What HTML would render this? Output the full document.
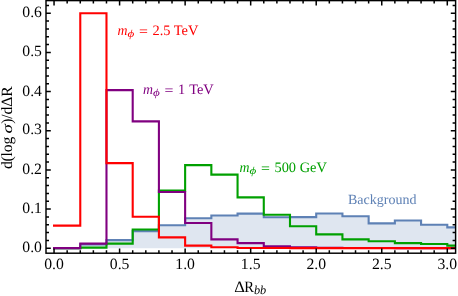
<!DOCTYPE html>
<html><head><meta charset="utf-8"><title>plot</title>
<style>html,body{margin:0;padding:0;background:#fff}svg{display:block;will-change:transform}text{text-rendering:geometricPrecision}</style></head>
<body>
<svg width="458" height="296" viewBox="0 0 458 296">
<rect width="458" height="296" fill="#fff"/>
<defs><clipPath id="c"><rect x="46.0" y="0.6" width="409.6" height="252.6"/></clipPath></defs>
<g clip-path="url(#c)" fill="none" stroke-width="2.1" stroke-linejoin="miter" stroke-linecap="square">
<path d="M54.05,248.09 L80.27,248.09 L80.27,244.33 L106.48,244.33 L106.48,240.14 L132.70,240.14 L132.70,231.13 L158.91,231.13 L158.91,225.22 L185.13,225.22 L185.13,218.28 L211.35,218.28 L211.35,215.54 L237.56,215.54 L237.56,213.58 L263.78,213.58 L263.78,217.31 L289.99,217.31 L289.99,217.11 L316.21,217.11 L316.21,213.47 L342.43,213.47 L342.43,216.21 L368.64,216.21 L368.64,223.34 L394.86,223.34 L394.86,220.52 L421.07,220.52 L421.07,224.75 L447.29,224.75 L447.29,227.37 L473.51,227.37 L473.51,248.25 L54.05,248.25 Z" fill="#5e81b5" fill-opacity="0.2" stroke="none"/>
<path d="M54.05,248.09 L80.27,248.09 L80.27,244.33 L106.48,244.33 L106.48,240.14 L132.70,240.14 L132.70,231.13 L158.91,231.13 L158.91,225.22 L185.13,225.22 L185.13,218.28 L211.35,218.28 L211.35,215.54 L237.56,215.54 L237.56,213.58 L263.78,213.58 L263.78,217.31 L289.99,217.31 L289.99,217.11 L316.21,217.11 L316.21,213.47 L342.43,213.47 L342.43,216.21 L368.64,216.21 L368.64,223.34 L394.86,223.34 L394.86,220.52 L421.07,220.52 L421.07,224.75 L447.29,224.75 L447.29,227.37 L473.51,227.37" stroke="#5e81b5"/>
<path d="M54.05,248.09 L80.27,248.09 L80.27,247.66 L106.48,247.66 L106.48,243.67 L132.70,243.67 L132.70,229.45 L158.91,229.45 L158.91,190.67 L185.13,190.67 L185.13,165.09 L211.35,165.09 L211.35,174.61 L237.56,174.61 L237.56,197.33 L263.78,197.33 L263.78,214.68 L289.99,214.68 L289.99,226.31 L316.21,226.31 L316.21,234.34 L342.43,234.34 L342.43,239.36 L368.64,239.36 L368.64,241.20 L394.86,241.20 L394.86,243.16 L421.07,243.16 L421.07,243.94 L447.29,243.94 L447.29,245.66 L473.51,245.66" stroke="#00a000"/>
<path d="M54.05,248.09 L80.27,248.09 L80.27,243.67 L106.48,243.67 L106.48,90.08 L132.70,90.08 L132.70,121.42 L158.91,121.42 L158.91,192.04 L185.13,192.04 L185.13,223.02 L211.35,223.02 L211.35,239.36 L237.56,239.36 L237.56,243.16 L263.78,243.16 L263.78,246.29 L289.99,246.29 L289.99,247.19 L316.21,247.19 L316.21,247.78 L342.43,247.78 L342.43,247.94 L368.64,247.94 L368.64,248.05 L394.86,248.05 L394.86,248.09 L421.07,248.09 L421.07,248.13 L447.29,248.13 L447.29,248.13 L473.51,248.13" stroke="#800080"/>
<path d="M54.05,225.65 L80.27,225.65 L80.27,13.23 L106.48,13.23 L106.48,163.09 L132.70,163.09 L132.70,216.72 L158.91,216.72 L158.91,237.40 L185.13,237.40 L185.13,245.66 L211.35,245.66 L211.35,247.19 L237.56,247.19 L237.56,247.94 L263.78,247.94 L263.78,248.05 L289.99,248.05 L289.99,248.09 L316.21,248.09 L316.21,248.09 L342.43,248.09 L342.43,248.09 L368.64,248.09 L368.64,248.09 L394.86,248.09 L394.86,248.09 L421.07,248.09 L421.07,248.09 L447.29,248.09 L447.29,248.09 L473.51,248.09" stroke="#ff0000"/>
</g>
<path d="M54.05,253.2 v-4.8 M54.05,0.6 v4.8 M67.16,253.2 v-3.0 M67.16,0.6 v3.0 M80.27,253.2 v-3.0 M80.27,0.6 v3.0 M93.37,253.2 v-3.0 M93.37,0.6 v3.0 M106.48,253.2 v-3.0 M106.48,0.6 v3.0 M119.59,253.2 v-4.8 M119.59,0.6 v4.8 M132.70,253.2 v-3.0 M132.70,0.6 v3.0 M145.81,253.2 v-3.0 M145.81,0.6 v3.0 M158.91,253.2 v-3.0 M158.91,0.6 v3.0 M172.02,253.2 v-3.0 M172.02,0.6 v3.0 M185.13,253.2 v-4.8 M185.13,0.6 v4.8 M198.24,253.2 v-3.0 M198.24,0.6 v3.0 M211.35,253.2 v-3.0 M211.35,0.6 v3.0 M224.45,253.2 v-3.0 M224.45,0.6 v3.0 M237.56,253.2 v-3.0 M237.56,0.6 v3.0 M250.67,253.2 v-4.8 M250.67,0.6 v4.8 M263.78,253.2 v-3.0 M263.78,0.6 v3.0 M276.89,253.2 v-3.0 M276.89,0.6 v3.0 M289.99,253.2 v-3.0 M289.99,0.6 v3.0 M303.10,253.2 v-3.0 M303.10,0.6 v3.0 M316.21,253.2 v-4.8 M316.21,0.6 v4.8 M329.32,253.2 v-3.0 M329.32,0.6 v3.0 M342.43,253.2 v-3.0 M342.43,0.6 v3.0 M355.53,253.2 v-3.0 M355.53,0.6 v3.0 M368.64,253.2 v-3.0 M368.64,0.6 v3.0 M381.75,253.2 v-4.8 M381.75,0.6 v4.8 M394.86,253.2 v-3.0 M394.86,0.6 v3.0 M407.97,253.2 v-3.0 M407.97,0.6 v3.0 M421.07,253.2 v-3.0 M421.07,0.6 v3.0 M434.18,253.2 v-3.0 M434.18,0.6 v3.0 M447.29,253.2 v-4.8 M447.29,0.6 v4.8 M46.0,248.25 h4.8 M455.6,248.25 h-4.8 M46.0,240.42 h3.0 M455.6,240.42 h-3.0 M46.0,232.58 h3.0 M455.6,232.58 h-3.0 M46.0,224.75 h3.0 M455.6,224.75 h-3.0 M46.0,216.91 h3.0 M455.6,216.91 h-3.0 M46.0,209.08 h4.8 M455.6,209.08 h-4.8 M46.0,201.25 h3.0 M455.6,201.25 h-3.0 M46.0,193.41 h3.0 M455.6,193.41 h-3.0 M46.0,185.58 h3.0 M455.6,185.58 h-3.0 M46.0,177.74 h3.0 M455.6,177.74 h-3.0 M46.0,169.91 h4.8 M455.6,169.91 h-4.8 M46.0,162.08 h3.0 M455.6,162.08 h-3.0 M46.0,154.24 h3.0 M455.6,154.24 h-3.0 M46.0,146.41 h3.0 M455.6,146.41 h-3.0 M46.0,138.57 h3.0 M455.6,138.57 h-3.0 M46.0,130.74 h4.8 M455.6,130.74 h-4.8 M46.0,122.91 h3.0 M455.6,122.91 h-3.0 M46.0,115.07 h3.0 M455.6,115.07 h-3.0 M46.0,107.24 h3.0 M455.6,107.24 h-3.0 M46.0,99.40 h3.0 M455.6,99.40 h-3.0 M46.0,91.57 h4.8 M455.6,91.57 h-4.8 M46.0,83.74 h3.0 M455.6,83.74 h-3.0 M46.0,75.90 h3.0 M455.6,75.90 h-3.0 M46.0,68.07 h3.0 M455.6,68.07 h-3.0 M46.0,60.23 h3.0 M455.6,60.23 h-3.0 M46.0,52.40 h4.8 M455.6,52.40 h-4.8 M46.0,44.57 h3.0 M455.6,44.57 h-3.0 M46.0,36.73 h3.0 M455.6,36.73 h-3.0 M46.0,28.90 h3.0 M455.6,28.90 h-3.0 M46.0,21.06 h3.0 M455.6,21.06 h-3.0 M46.0,13.23 h4.8 M455.6,13.23 h-4.8 M46.0,5.40 h3.0 M455.6,5.40 h-3.0" stroke="#000" stroke-width="1.5" fill="none"/>
<rect x="46.0" y="0.6" width="409.6" height="252.6" fill="none" stroke="#000" stroke-width="1.45"/>
<g font-family="'Liberation Serif', serif" font-size="15.7" fill="#000">
<text x="54.05" y="269" text-anchor="middle">0.0</text>
<text x="119.59" y="269" text-anchor="middle">0.5</text>
<text x="185.13" y="269" text-anchor="middle">1.0</text>
<text x="250.67" y="269" text-anchor="middle">1.5</text>
<text x="316.21" y="269" text-anchor="middle">2.0</text>
<text x="381.75" y="269" text-anchor="middle">2.5</text>
<text x="447.29" y="269" text-anchor="middle">3.0</text>
<text x="41.9" y="251.95" text-anchor="end">0.0</text>
<text x="41.9" y="213.18" text-anchor="end">0.1</text>
<text x="41.9" y="173.81" text-anchor="end">0.2</text>
<text x="41.9" y="134.44" text-anchor="end">0.3</text>
<text x="41.9" y="96.17" text-anchor="end">0.4</text>
<text x="41.9" y="56.10" text-anchor="end">0.5</text>
<text x="41.9" y="16.93" text-anchor="end">0.6</text>
<text transform="translate(234.3,292.3) scale(1.05,1)" font-size="15.8">Δ</text>
<text x="244.2" y="292.3" font-size="15.8" textLength="9.7" lengthAdjust="spacingAndGlyphs">R</text>
<text x="253.9" y="293.6" font-size="12.3" font-style="italic">bb</text>
<g transform="translate(11.9,168.7) rotate(-90)" font-size="15.7">
<text x="-0.4" y="0" letter-spacing="-0.2">d(log</text>
<text transform="translate(35.2,0) scale(1.3,1)" font-size="14.5" font-style="italic">σ</text>
<text x="45.0" y="0" letter-spacing="-0.17">)/dΔR</text>
</g>
</g>
<g font-family="'Liberation Serif', serif" font-size="14.5">
<g fill="#ff0000"><text transform="translate(117.50,34.7) scale(0.96,1)" font-size="14.4" font-style="italic">m</text><text transform="translate(127.50,36.6) scale(1.25,1)" font-size="10.5" font-style="italic">ϕ</text><text transform="translate(139.11,35.50) scale(1.1,1)" font-size="14.4">=</text><text x="152.47" y="34.7" font-size="14.4" word-spacing="0">2.5 TeV</text></g>
<g fill="#800080"><text transform="translate(143.00,93.8) scale(0.96,1)" font-size="14.4" font-style="italic">m</text><text transform="translate(153.00,95.7) scale(1.25,1)" font-size="10.5" font-style="italic">ϕ</text><text transform="translate(164.61,94.60) scale(1.1,1)" font-size="14.4">=</text><text x="177.97" y="93.8" font-size="14.4" word-spacing="0.7">1 TeV</text></g>
<g fill="#00a000"><text transform="translate(239.50,172.4) scale(0.96,1)" font-size="14.4" font-style="italic">m</text><text transform="translate(249.50,174.3) scale(1.25,1)" font-size="10.5" font-style="italic">ϕ</text><text transform="translate(261.11,173.20) scale(1.1,1)" font-size="14.4">=</text><text x="274.47" y="172.4" font-size="14.4" word-spacing="0">500 GeV</text></g>
<text x="348" y="204.4" fill="#5e81b5" font-size="14">Background</text>
</g>
</svg>
</body></html>
